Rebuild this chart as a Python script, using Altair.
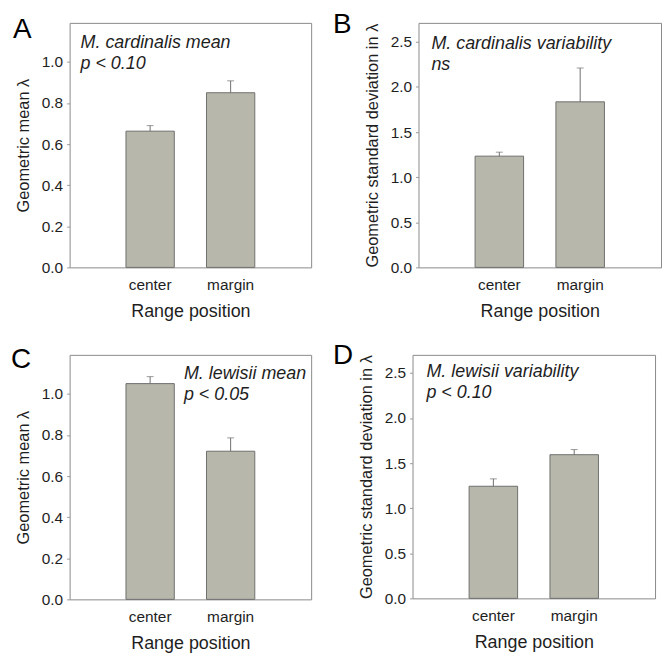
import altair as alt
import pandas as pd

positions = ["center", "margin"]

# Panel A: M. cardinalis geometric mean lambda
a_vals = [0.663, 0.850]
a_errs = [0.690, 0.908]
# Panel B: M. cardinalis geometric SD
b_vals = [1.233, 1.835]
b_errs = [1.277, 2.210]
# Panel C: M. lewisii geometric mean lambda
c_vals = [1.050, 0.721]
c_errs = [1.084, 0.786]
# Panel D: M. lewisii geometric SD
d_vals = [1.243, 1.593]
d_errs = [1.325, 1.650]

mean_ticks = [0.0, 0.2, 0.4, 0.6, 0.8, 1.0]
sd_ticks = [0.0, 0.5, 1.0, 1.5, 2.0, 2.5]

FILL = "#b7b7ab"
STROKE = "#6f6f6f"
TEXT = "#1e1e1e"
FONT = "Liberation Sans"


def panel(vals, errs, domain, ticks, ytitle, ann, ann_x, ann_y, letter, lx, ly, width, height):
    df = pd.DataFrame({"pos": positions, "val": vals, "err": errs})
    base = alt.Chart(df)
    x = alt.X(
        "pos:N",
        sort=positions,
        scale=alt.Scale(paddingInner=0.4, paddingOuter=0.7),
        axis=alt.Axis(
            title="Range position", labelAngle=0, ticks=False, domain=False,
            labelFontSize=15.5, labelPadding=10, titleFontSize=18, titlePadding=10,
            labelColor=TEXT, titleColor=TEXT, titleFontWeight="normal",
        ),
    )
    y = alt.Y(
        "val:Q",
        scale=alt.Scale(domain=domain, nice=False, zero=True),
        axis=alt.Axis(
            title=ytitle, values=ticks, format=".1f", grid=False, domain=False,
            ticks=True, tickSize=3, tickColor="#999999", labelFontSize=15.5,
            labelPadding=4, titleFontSize=16.5, titlePadding=10,
            labelColor=TEXT, titleColor=TEXT, titleFontWeight="normal",
        ),
    )
    bars = base.mark_bar(fill=FILL, stroke=STROKE, strokeWidth=1).encode(x=x, y=y)
    rule = base.mark_rule(color=STROKE, strokeWidth=1).encode(
        x=alt.X("pos:N", sort=positions), y=alt.Y("val:Q"), y2="err:Q"
    )
    cap = base.mark_tick(color=STROKE, thickness=1, size=7, orient="horizontal").encode(
        x=alt.X("pos:N", sort=positions), y=alt.Y("err:Q")
    )
    one = pd.DataFrame({"k": [0]})
    note = alt.Chart(one).mark_text(
        text=ann, align="left", baseline="top", fontSize=18, fontStyle="italic",
        lineHeight=21, color=TEXT, font=FONT,
    ).encode(x=alt.value(ann_x), y=alt.value(ann_y))
    lab = alt.Chart(one).mark_text(
        text=letter, align="left", baseline="alphabetic", fontSize=28,
        color="#000000", font=FONT,
    ).encode(x=alt.value(lx), y=alt.value(ly))
    return alt.layer(bars, rule, cap, note, lab).properties(width=width, height=height)


pa = panel(a_vals, a_errs, [0, 1.19], mean_ticks, "Geometric mean λ",
           ["M. cardinalis mean", "p < 0.10"], 11, 11, "A", -57, 15, 243, 246)
pb = panel(b_vals, b_errs, [0, 2.71], sd_ticks, "Geometric standard deviation in λ",
           ["M. cardinalis variability", "ns"], 13, 12, "B", -86, 10, 244, 246)
pc = panel(c_vals, c_errs, [0, 1.19], mean_ticks, "Geometric mean λ",
           ["M. lewisii mean", "p < 0.05"], 115, 10, "C", -59, 13, 243, 246)
pd_ = panel(d_vals, d_errs, [0, 2.70], sd_ticks, "Geometric standard deviation in λ",
            ["M. lewisii variability", "p < 0.10"], 14, 8, "D", -80, 9, 244, 245)

chart = alt.vconcat(
    alt.hconcat(pa, pb, spacing=20),
    alt.hconcat(pc, pd_, spacing=20),
    spacing=20,
).configure(font=FONT).configure_view(stroke="#8a8a8a", strokeWidth=1).configure_axis(
    labelFont=FONT, titleFont=FONT
).properties(background="white", padding={"top": 0, "left": 2, "right": 1, "bottom": 0})

chart.save("out.html", embed_options={"renderer": "svg", "actions": False})
